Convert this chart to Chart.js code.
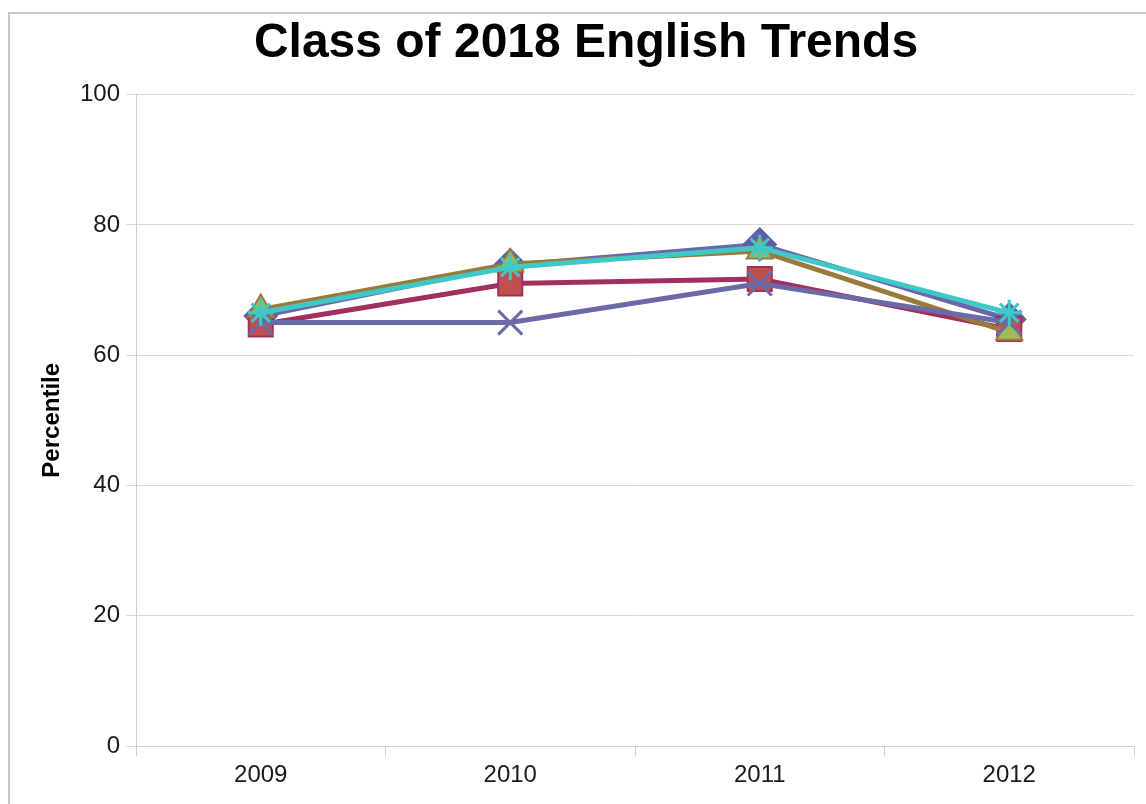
<!DOCTYPE html>
<html>
<head>
<meta charset="utf-8">
<script src="https://cdn.jsdelivr.net/npm/chart.js@4/dist/chart.umd.min.js"></script>
<style>
  html, body { margin: 0; padding: 0; background: #fff; overflow: hidden; }
  #wrap { position: relative; width: 1146px; height: 804px; overflow: hidden; }
  #frame { position: absolute; left: 8px; top: 12px; width: 1150px; height: 800px; border: 2px solid #c8c8c8; box-sizing: border-box; }
  canvas { position: absolute; left: 0; top: 0; }
</style>
</head>
<body>
<div id="wrap">
  <div id="frame"></div>
  <canvas id="grafico" width="1154" height="804"></canvas>
</div>
<script>
// -----------------------Class of 2018 English Trends--------------------------------------------//

var years = ['2009', '2010', '2011', '2012'];
var serieDiamante = [66, 73.8, 77, 65.5];
var serieQuadrado = [64.7, 71, 71.7, 64];
var serieTriangulo = [67, 74, 76, 63.5];
var serieX = [65, 65, 71, 65];
var serieEstrela = [66.5, 73.5, 76.5, 66.5];

var fonte = 'Liberation Sans, Arial, sans-serif';

var data = {
  labels: years,
  datasets: [
    {
      label: 'Series 1',
      data: serieDiamante,
      borderColor: '#6868aa',
      backgroundColor: '#5b5fa8',
      pointStyle: 'rectRot',
      pointRadius: 14,
      pointBorderColor: '#5b5fa8',
      borderWidth: 5,
      order: 4
    },
    {
      label: 'Series 2',
      data: serieQuadrado,
      borderColor: '#a1305f',
      backgroundColor: '#c0504d',
      pointStyle: 'rect',
      pointRadius: 17,
      pointBorderColor: '#a1305f',
      pointBorderWidth: 2,
      borderWidth: 5,
      order: 3
    },
    {
      label: 'Series 3',
      data: serieTriangulo,
      borderColor: '#9a7a3a',
      backgroundColor: '#9bbb59',
      pointStyle: 'triangle',
      pointRadius: 15,
      pointBorderColor: '#9a7a3a',
      pointBorderWidth: 2,
      borderWidth: 5,
      order: 2
    },
    {
      label: 'Series 4',
      data: serieX,
      borderColor: '#6b6aa6',
      backgroundColor: '#6b6aa6',
      pointStyle: 'crossRot',
      pointRadius: 17,
      pointBorderWidth: 3,
      borderWidth: 5,
      order: 1
    },
    {
      label: 'Series 5',
      data: serieEstrela,
      borderColor: '#3fc8c8',
      backgroundColor: '#3fc8c8',
      pointStyle: 'star',
      pointRadius: 13,
      pointBorderWidth: 3,
      borderWidth: 5,
      order: 0
    }
  ]
};

var options = {
  responsive: false,
  animation: false,
  layout: { padding: { left: 38, right: 20, top: 0, bottom: 0 } },
  elements: { line: { tension: 0, fill: false } },
  plugins: {
    legend: { display: false },
    tooltip: { enabled: false },
    title: {
      display: true,
      text: 'Class of 2018 English Trends',
      color: '#000',
      font: { family: fonte, size: 48, weight: 'bold' },
      padding: { top: 15, bottom: 22 }
    }
  },
  scales: {
    x: {
      offset: true,
      grid: { offset: true, drawOnChartArea: false, color: '#d0d0d0', tickLength: 10 },
      border: { color: '#d0d0d0' },
      ticks: { color: '#1a1a1a', padding: 5, font: { family: fonte, size: 24 } },
      afterFit: function (scale) { scale.height = 58; }
    },
    y: {
      min: 0,
      max: 100,
      ticks: { stepSize: 20, color: '#1a1a1a', padding: 6, font: { family: fonte, size: 24 } },
      grid: { color: '#d9d9d9', tickLength: 10 },
      border: { color: '#d0d0d0' },
      title: {
        display: true,
        text: 'Percentile',
        color: '#000',
        font: { family: fonte, size: 24, weight: 'bold' },
        padding: 0
      },
      afterFit: function (scale) { scale.width = 98; }
    }
  }
};

var ctx = document.getElementById('grafico').getContext('2d');
var grafico = new Chart(ctx, {
  type: 'line',
  data: data,
  options: options
});
</script>
</body>
</html>
